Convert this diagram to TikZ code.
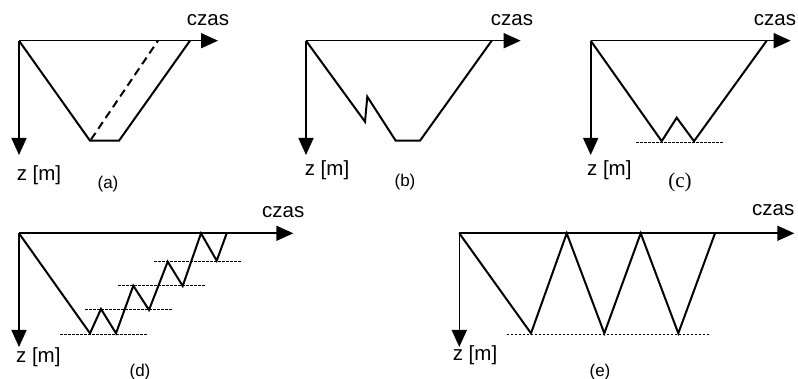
\documentclass[tikz,border=0pt]{standalone}
\usepackage{fontspec}
\setmainfont{Liberation Sans}
\newfontfamily\timesfont{Liberation Serif}
\usetikzlibrary{arrows.meta}
\begin{document}
\begin{tikzpicture}[x=1pt,y=-1pt,
  axis/.style={line width=1.6pt,-{Triangle[length=17pt,width=15pt]}},
  prof/.style={line width=2pt,line join=miter},
  level/.style={line width=0.8pt,dash pattern=on 2.5pt off 1.5pt},
  dashprof/.style={line width=2pt,dash pattern=on 8pt off 5pt},
  lbl/.style={font=\fontsize{20.5}{22}\selectfont,inner sep=0pt},
  sub/.style={font=\fontsize{17}{19}\selectfont,inner sep=0pt},
  subser/.style={font=\timesfont\fontsize{21}{23}\selectfont,inner sep=0pt}]
\useasboundingbox (0,0) rectangle (798,379);
% (a)
\draw[axis] (19,40.7) -- (218,40.7);
\draw[axis] (19,40.7) -- (19,155);
\draw[prof] (19,40.7) -- (90,140.7) -- (119,140.7) -- (190,40.7);
\draw[dashprof] (91,139.5) -- (158,40.7);
\node[lbl] (ta) at (208,20) {czas};
\node[lbl] (za) at (39,175.5) {z [m]};
\node[sub] (la) at (108,184) {(a)};
% (b)
\draw[axis] (306,40.7) -- (520.7,40.7);
\draw[axis] (306,40.7) -- (306,155);
\draw[prof] (306,40.7) -- (365,121.7) -- (367.3,96.7) -- (395.7,140.7) -- (420,140.7) -- (491.7,40.7);
\node[lbl] (tb) at (512,20) {czas};
\node[lbl] (zb) at (327,170.5) {z [m]};
\node[sub] (lb) at (405,182.5) {(b)};
% (c)
\draw[axis] (590.7,40.7) -- (790.7,40.7);
\draw[axis] (590.7,40.7) -- (590.7,155);
\draw[prof] (590.7,40.7) -- (661.7,141.2) -- (676.7,117.7) -- (694,141.2) -- (766.7,40.7);
\draw[level] (636,142.7) -- (722.7,142.7);
\node[lbl] (tc) at (775,20) {czas};
\node[lbl] (zc) at (609.3,170.5) {z [m]};
\node[subser] (lc) at (680,182.5) {(c)};
% (d)
\draw[axis] (19,233.3) -- (293.3,233.3);
\draw[axis] (19,233.3) -- (19,347);
\draw[prof] (19,233.3) -- (90,333.3) -- (101,309) -- (116,333.3) -- (133.3,285.7) -- (149,310) -- (167.7,261.7) -- (182.7,286) -- (201,233.3) -- (216.7,260.7) -- (226.7,233.3);
\draw[level] (60,334.5) -- (146.7,334.5);
\draw[level] (85,309.3) -- (171.7,309.3);
\draw[level] (118.3,285.7) -- (205,285.7);
\draw[level] (154,261.7) -- (240.7,261.7);
\node[lbl] (td) at (283.3,211.7) {czas};
\node[lbl] (zd) at (38.3,357) {z [m]};
\node[sub] (ld) at (140,372.5) {(d)};
% (e)
\draw[axis] (459.3,233.3) -- (794.3,233.3);
\draw[axis] (459.3,233.3) -- (459.3,347);
\draw[prof] (459.3,233.3) -- (531,333.3) -- (566.7,233.3) -- (604.3,333.3) -- (640.7,233.3) -- (678.3,333.3) -- (715,233.3);
\draw[level] (506.7,334.3) -- (710,334.3);
\node[lbl] (te) at (773.3,210) {czas};
\node[lbl] (ze) at (475,355.5) {z [m]};
\node[sub] (le) at (600,372.5) {(e)};
\end{tikzpicture}
\end{document}
